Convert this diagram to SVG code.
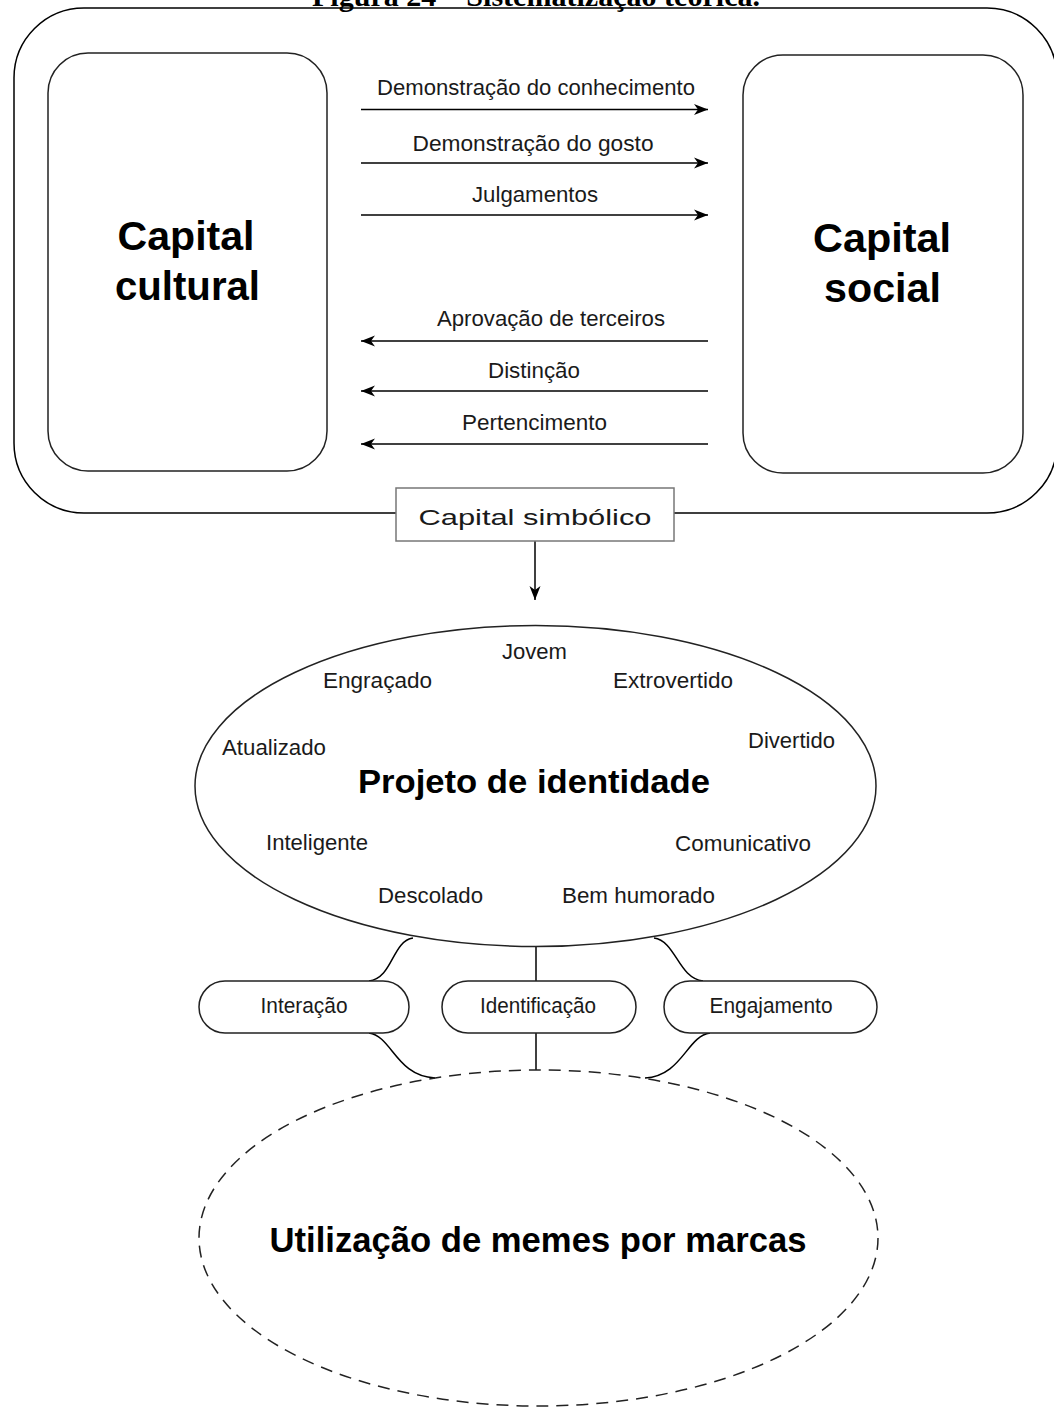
<svg xmlns="http://www.w3.org/2000/svg" width="1054" height="1407" viewBox="0 0 1054 1407">
<style>
.ln{fill:none;stroke:#000;stroke-width:1.5}
.box{fill:#fff;stroke:#222;stroke-width:1.5}
.t{font-family:"Liberation Sans",Arial,sans-serif;fill:#1a1a1a;text-anchor:middle;font-size:22px}
.b{font-family:"Liberation Sans",Arial,sans-serif;fill:#000;text-anchor:middle;font-weight:bold}
</style>
<defs>
<marker id="ah" markerWidth="15" markerHeight="12" refX="14" refY="6" orient="auto" markerUnits="userSpaceOnUse">
<path d="M0,0.5 L14,6 L0,11.5 L4,6 z" fill="#000"/>
</marker>
</defs>
<rect width="1054" height="1407" fill="#fff"/>
<text x="536" y="6" font-family="'Liberation Serif','Times New Roman',serif" font-weight="bold" font-size="29" text-anchor="middle" textLength="448" lengthAdjust="spacingAndGlyphs">Figura 24 – Sistematização teórica.</text>
<g id="container">
<rect class="ln" x="14" y="8" width="1043" height="505" rx="70" ry="70"/>
</g>
<g id="capital-cultural">
<rect class="box" x="48" y="53" width="279" height="418" rx="40" ry="40"/>
<text class="b" x="186" y="250" font-size="40" textLength="137" lengthAdjust="spacingAndGlyphs">Capital</text>
<text class="b" x="187.5" y="300" font-size="40" textLength="145" lengthAdjust="spacingAndGlyphs">cultural</text>
</g>
<g id="capital-social">
<rect class="box" x="743" y="55" width="280" height="418" rx="40" ry="40"/>
<text class="b" x="882" y="252" font-size="40" textLength="138" lengthAdjust="spacingAndGlyphs">Capital</text>
<text class="b" x="882.5" y="302" font-size="40" textLength="117" lengthAdjust="spacingAndGlyphs">social</text>
</g>
<g id="connectors">
<line class="ln" x1="361" y1="109.5" x2="708" y2="109.5" marker-end="url(#ah)"/>
<line class="ln" x1="361" y1="163" x2="708" y2="163" marker-end="url(#ah)"/>
<line class="ln" x1="361" y1="215" x2="708" y2="215" marker-end="url(#ah)"/>
<line class="ln" x1="708" y1="341" x2="361" y2="341" marker-end="url(#ah)"/>
<line class="ln" x1="708" y1="391" x2="361" y2="391" marker-end="url(#ah)"/>
<line class="ln" x1="708" y1="444" x2="361" y2="444" marker-end="url(#ah)"/>
<line class="ln" x1="535" y1="541" x2="535" y2="600" marker-end="url(#ah)"/>
<path class="ln" d="M413,938 C392,941 393,978 369,981"/>
<line class="ln" x1="536" y1="946" x2="536" y2="981"/>
<path class="ln" d="M654,938 C676,941 678,978 703,981"/>
<path class="ln" d="M369,1033 C392,1036 396,1076 435,1078"/>
<line class="ln" x1="536" y1="1033" x2="536" y2="1070"/>
<path class="ln" d="M710,1033 C687,1036 682,1076 645,1078"/>
<g class="t">
<text x="536" y="95" textLength="318" lengthAdjust="spacingAndGlyphs">Demonstração do conhecimento</text>
<text x="533" y="151" textLength="241" lengthAdjust="spacingAndGlyphs">Demonstração do gosto</text>
<text x="535" y="202" textLength="126" lengthAdjust="spacingAndGlyphs">Julgamentos</text>
<text x="551" y="326" textLength="228" lengthAdjust="spacingAndGlyphs">Aprovação de terceiros</text>
<text x="534" y="378" textLength="92" lengthAdjust="spacingAndGlyphs">Distinção</text>
<text x="534.5" y="430" textLength="145" lengthAdjust="spacingAndGlyphs">Pertencimento</text>
</g>
</g>
<g id="capital-simbolico">
<rect x="396" y="488" width="278" height="53" fill="#fff" stroke="#777" stroke-width="1.5"/>
<text class="t" x="535" y="525" font-size="31" textLength="233" lengthAdjust="spacingAndGlyphs" fill="#333">Capital simbólico</text>
</g>
<g id="projeto-identidade">
<ellipse class="box" cx="535.5" cy="786" rx="340.5" ry="160.5"/>
<text class="b" x="534" y="793" font-size="34" textLength="352" lengthAdjust="spacingAndGlyphs">Projeto de identidade</text>
<g class="t">
<text x="534.5" y="659" textLength="65" lengthAdjust="spacingAndGlyphs">Jovem</text>
<text x="377.5" y="688" textLength="109" lengthAdjust="spacingAndGlyphs">Engraçado</text>
<text x="673" y="688" textLength="120" lengthAdjust="spacingAndGlyphs">Extrovertido</text>
<text x="274" y="755" textLength="104" lengthAdjust="spacingAndGlyphs">Atualizado</text>
<text x="791.5" y="748" textLength="87" lengthAdjust="spacingAndGlyphs">Divertido</text>
<text x="317" y="850" textLength="102" lengthAdjust="spacingAndGlyphs">Inteligente</text>
<text x="743" y="851" textLength="136" lengthAdjust="spacingAndGlyphs">Comunicativo</text>
<text x="430.5" y="903" textLength="105" lengthAdjust="spacingAndGlyphs">Descolado</text>
<text x="638.5" y="903" textLength="153" lengthAdjust="spacingAndGlyphs">Bem humorado</text>
</g>
</g>
<g id="interacao">
<rect class="box" x="199" y="981" width="210" height="52" rx="26" ry="26"/>
<text class="t" x="304" y="1013" textLength="87" lengthAdjust="spacingAndGlyphs">Interação</text>
</g>
<g id="identificacao">
<rect class="box" x="442" y="981" width="194" height="52" rx="26" ry="26"/>
<text class="t" x="538" y="1013" textLength="116" lengthAdjust="spacingAndGlyphs">Identificação</text>
</g>
<g id="engajamento">
<rect class="box" x="664" y="981" width="213" height="52" rx="26" ry="26"/>
<text class="t" x="771" y="1013" textLength="123" lengthAdjust="spacingAndGlyphs">Engajamento</text>
</g>
<g id="utilizacao-memes">
<ellipse cx="538.5" cy="1238" rx="339.5" ry="168" fill="none" stroke="#222" stroke-width="1.5" stroke-dasharray="12 8"/>
<text class="b" x="538" y="1252" font-size="35" textLength="537" lengthAdjust="spacingAndGlyphs">Utilização de memes por marcas</text>
</g>
</svg>
